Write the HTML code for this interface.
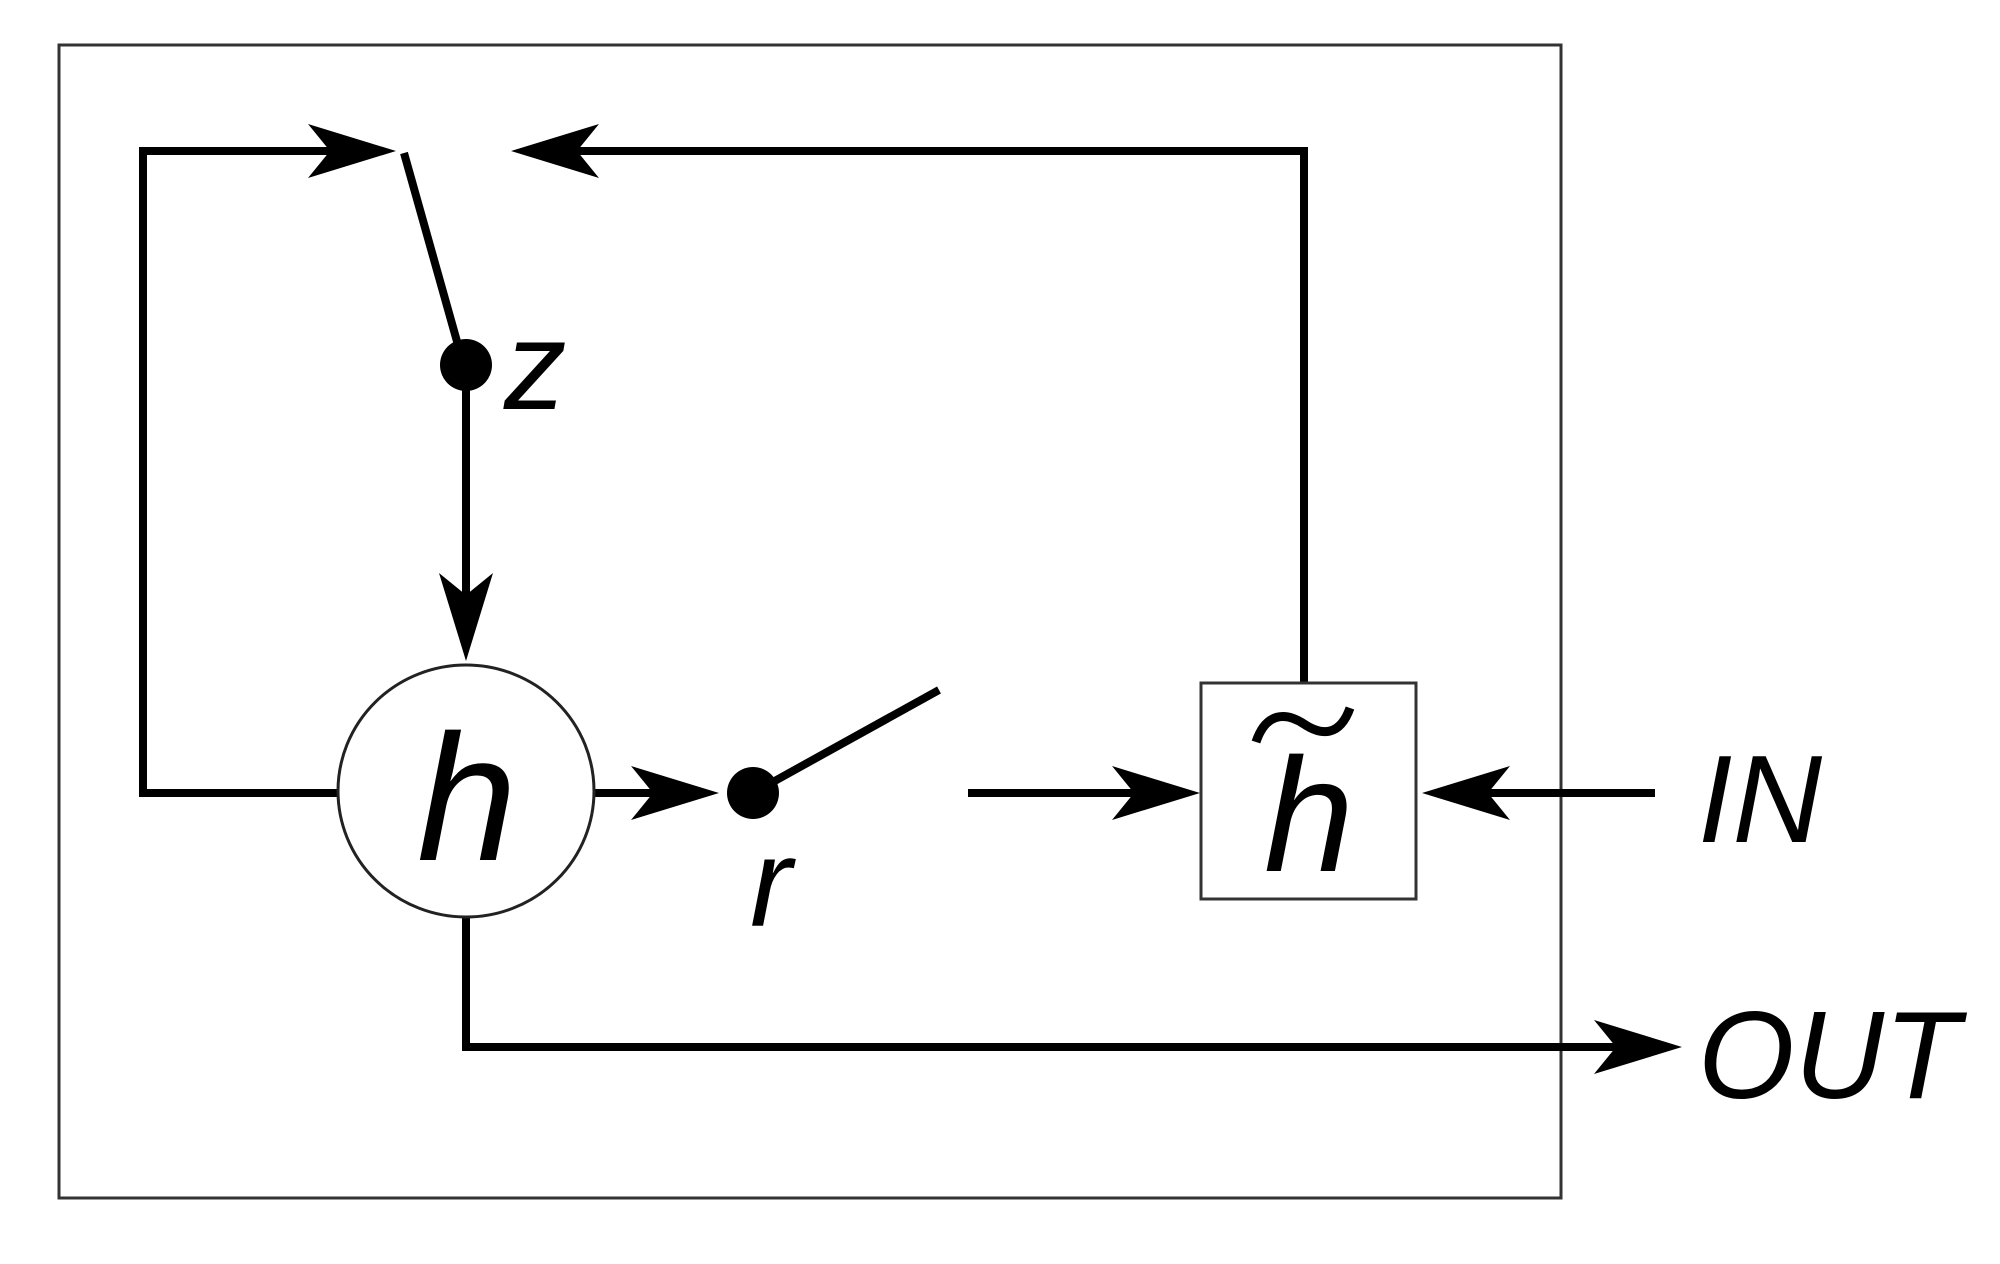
<!DOCTYPE html>
<html><head><meta charset="utf-8"><style>
html,body{margin:0;padding:0;background:#fff;}
svg{display:block;}
text{font-family:"Liberation Sans",sans-serif;font-style:italic;fill:#000;}
</style></head><body>
<svg width="2000" height="1264" viewBox="0 0 2000 1264" xmlns="http://www.w3.org/2000/svg">
<rect x="59" y="45" width="1502" height="1153" fill="none" stroke="#333" stroke-width="3"/>
<g fill="none" stroke="#000" stroke-width="8">
<polyline points="338,793 143,793 143,151 370,151"/>
<polyline points="1304,683 1304,151 540,151"/>
<line x1="404" y1="153" x2="458" y2="345"/>
<line x1="466" y1="365" x2="466" y2="635"/>
<line x1="594" y1="793" x2="694" y2="793"/>
<line x1="753" y1="793" x2="939" y2="690"/>
<line x1="968" y1="793" x2="1175" y2="793"/>
<line x1="1655" y1="793" x2="1448" y2="793"/>
<polyline points="466,917 466,1047 1657,1047"/>
</g>
<g fill="#000">
<!-- right-pointing arrows: tip (x,y) -->
<path d="M396,151 L308,124 L330,151 L308,178 Z"/>
<path d="M719,793 L631,766 L653,793 L631,820 Z"/>
<path d="M1200,793 L1112,766 L1134,793 L1112,820 Z"/>
<path d="M1682,1047 L1594,1020 L1616,1047 L1594,1074 Z"/>
<!-- left-pointing -->
<path d="M511,151 L599,124 L577,151 L599,178 Z"/>
<path d="M1422,793 L1510,766 L1488,793 L1510,820 Z"/>
<!-- down -->
<path d="M466,661 L439,573 L466,595 L493,573 Z"/>
</g>
<circle cx="466" cy="365" r="26" fill="#000"/>
<circle cx="753" cy="793" r="26" fill="#000"/>
<ellipse cx="466" cy="791" rx="128" ry="126" fill="#fff" stroke="#222" stroke-width="3"/>
<rect x="1201" y="683" width="215" height="216" fill="#fff" stroke="#333" stroke-width="3"/>
<text x="467" y="860" font-size="180" text-anchor="middle">h</text>
<text x="1309" y="871" font-size="162" text-anchor="middle">h</text>
<path d="M1256,742 C1266,712 1286,712 1304,724 C1322,736 1340,736 1350,708" fill="none" stroke="#000" stroke-width="9"/>
<text x="504" y="409" font-size="125">z</text>
<text x="750" y="926" font-size="125">r</text>
<text x="1698" y="842" font-size="124">IN</text>
<text x="1698" y="1098" font-size="124">OUT</text>
</svg>
</body></html>
